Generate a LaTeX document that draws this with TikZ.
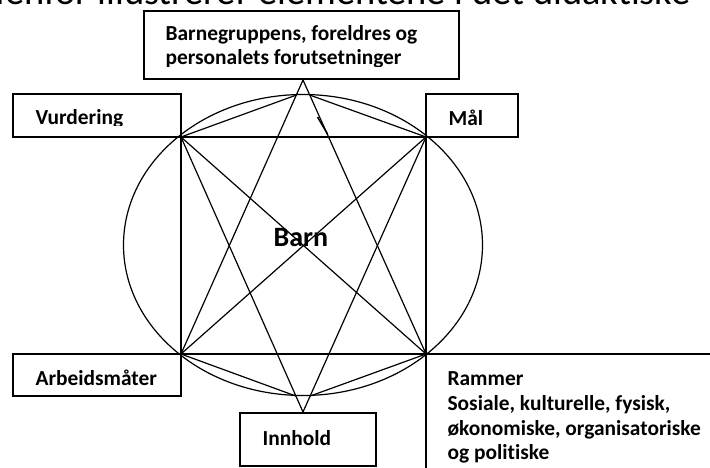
\documentclass[tikz,border=0pt]{standalone}
\usepackage{fontspec}
\setmainfont{Carlito}[Ligatures=NoCommon]
\usetikzlibrary{calc}
\usetikzlibrary{math}
\tikzset{box/.style={draw=black, line width=1.2pt, inner sep=0pt, outer sep=0pt},
	lbl/.style={font=\bfseries\fontsize{21.4}{25}\selectfont, inner sep=0pt, anchor=base west}}

\begin{document}
\begin{tikzpicture}[x=1pt,y=-1pt,line width=1.2pt]
	\tikzmath{\cx=303; \cy=245; \rx=179.5; \ry=150.5;}
	\useasboundingbox (0,0) rectangle (710,468);
	\begin{scope}
	\clip (0,0) rectangle (710,468);
	\node[font=\fontsize{38.5}{44}\selectfont, inner sep=0pt, anchor=base east] (title) at (691,5) {nedenfor illustrerer elementene i det didaktiske};
	\end{scope}

	\node[box, minimum width=315pt, minimum height=68pt] (pre) at (301.5,45) {};
	\node[box, minimum width=168pt, minimum height=43pt] (vur) at (97,115.5) {};
	\node[box, minimum width=92pt, minimum height=43pt] (maal) at (472,115.5) {};
	\node[box, minimum width=168pt, minimum height=42pt] (arb) at (97,375) {};
	\node[box, minimum width=136pt, minimum height=53pt] (inn) at (308,439.5) {};

	\begin{scope}
	\clip (144,11) rectangle (459,67);
	\node[lbl] (pretxta) at (165,41) {Barnegruppens, foreldres og};
	\node[lbl] (pretxtb) at (165,65) {personalets forutsetninger};
	\end{scope}
	\begin{scope}
	\clip (13,94) rectangle (181,126);
	\node[lbl] (vurtxt) at (35,125) {Vurdering};
	\end{scope}
	\node[lbl] (maaltxt) at (448,126) {Mål};
	\node[lbl] (arbtxt) at (35,385) {Arbeidsmåter};
	\node[lbl] (inntxt) at (262,445) {Innhold};
	\node[lbl] (ramtxta) at (447,385) {Rammer};
	\node[lbl] (ramtxtb) at (447,410) {Sosiale, kulturelle, fysisk,};
	\node[lbl] (ramtxtc) at (447,435) {økonomiske, organisatoriske};
	\node[lbl] (ramtxtd) at (447,459) {og politiske};
	\node[lbl, font=\bfseries\fontsize{28}{34}\selectfont] (barn) at (273,247) {Barn};

	\coordinate (TL) at (vur.south east);
	\coordinate (TR) at (maal.south west);
	\coordinate (BL) at (arb.north east);
	\coordinate (BR) at (426,354);
	\coordinate (T) at (303,80);
	\coordinate (B) at (303,412);

	\draw (\cx,\cy) ellipse [x radius=\rx, y radius=\ry];
	\draw (TL) -- (TR) -- (BR) -- (BL) -- cycle;
	\draw (TL) -- (BR) (TR) -- (BL);
	\draw (T) -- (BL) (T) -- (BR);
	\draw (B) -- (TL) (B) -- (TR);
	\draw (TL) -- ($(T)!0.055!(BL)$) (TR) -- ($(T)!0.055!(BR)$);
	\draw (BL) -- ($(B)!0.058!(TL)$) (BR) -- ($(B)!0.058!(TR)$);
	\draw (BR) -- (710,354) (BR) -- (426,468);
	\draw[line width=2.2pt] (BL) -- (360,354);
	\draw[line width=1.5pt] (317.5,117) -- (327.5,134);
\end{tikzpicture}
\end{document}
